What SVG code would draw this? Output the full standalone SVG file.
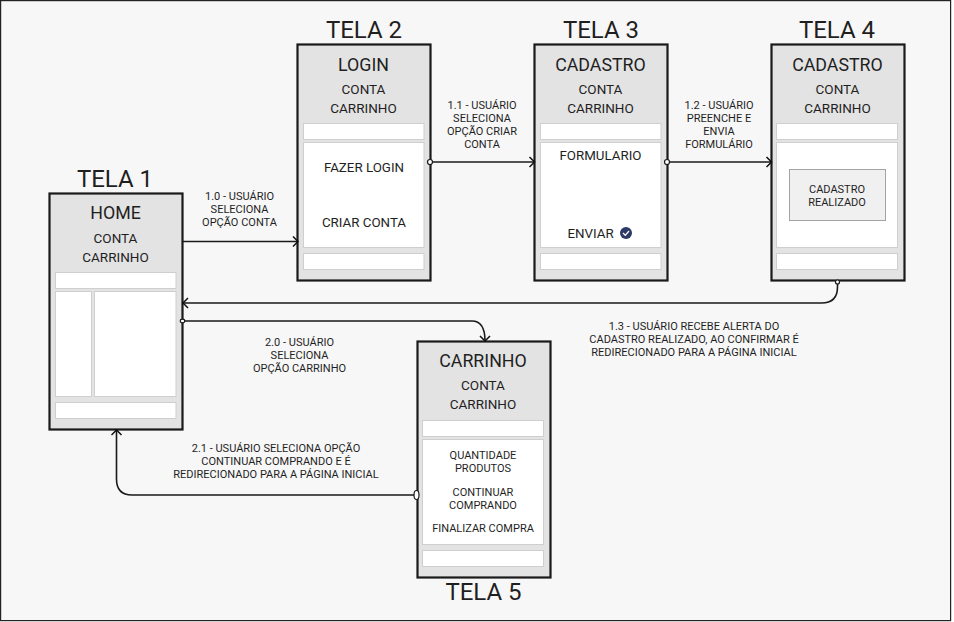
<svg xmlns="http://www.w3.org/2000/svg" width="954" height="622" viewBox="0 0 954 622">
<defs>
<marker id="arr" viewBox="0 0 10 12" refX="9" refY="6" markerWidth="10" markerHeight="12" orient="auto" markerUnits="userSpaceOnUse"><path d="M4 1 L9 6 L4 11" fill="none" stroke="#111" stroke-width="1.5"/></marker>
</defs>
<style>
text{font-family:Roboto,"Liberation Sans",sans-serif;text-anchor:middle;fill:#1f1f1f}
.bg{fill:#f7f7f7;stroke:#222;stroke-width:1.2}
.scr{fill:#e3e3e3;stroke:#1a1a1a;stroke-width:2.2}
.w{fill:#fff;stroke:#cfcfcf;stroke-width:1}
.tela{font-size:24px}
.title{font-size:17.8px}
.nav{font-size:13.5px}
.lbl{font-size:11px}
.item{font-size:13.33px}
.conn{fill:none;stroke:#1a1a1a;stroke-width:1.6}
.dot{fill:#fff;stroke:#1a1a1a;stroke-width:1.2}
</style>
<rect x="0" y="0" width="954" height="622" fill="#fff"/>
<rect class="bg" x="0.6" y="0.6" width="950" height="620"/>

<g id="tela1">
<text class="tela" x="115" y="187">TELA 1</text>
<rect class="scr" x="49.500" y="193.500" width="133" height="236"/>
<text class="title" x="115.500" y="218.500">HOME</text>
<text class="nav" x="115.500" y="243">CONTA</text>
<text class="nav" x="115.500" y="262">CARRINHO</text>
<rect class="w" x="55.500" y="272.500" width="120.500" height="16"/>
<rect class="w" x="55.500" y="291.500" width="36" height="105"/>
<rect class="w" x="94.500" y="291.500" width="81.500" height="105"/>
<rect class="w" x="55.500" y="402.500" width="120.500" height="16"/>
</g>

<g id="tela2">
<text class="tela" x="364" y="38">TELA 2</text>
<rect class="scr" x="297.500" y="44.500" width="133" height="236"/>
<text class="title" x="363.500" y="70.700">LOGIN</text>
<text class="nav" x="363.500" y="94">CONTA</text>
<text class="nav" x="363.500" y="113">CARRINHO</text>
<rect class="w" x="303.500" y="123.500" width="120.500" height="16"/>
<rect class="w" x="303.500" y="142.500" width="120.500" height="105"/>
<text class="item" x="364" y="172">FAZER LOGIN</text>
<text class="item" x="364" y="227">CRIAR CONTA</text>
<rect class="w" x="303.500" y="253.500" width="120.500" height="16"/>
</g>

<g id="tela3">
<text class="tela" x="601" y="38">TELA 3</text>
<rect class="scr" x="534.500" y="44.500" width="133" height="236"/>
<text class="title" x="600.500" y="70.700">CADASTRO</text>
<text class="nav" x="600.500" y="94">CONTA</text>
<text class="nav" x="600.500" y="113">CARRINHO</text>
<rect class="w" x="540.500" y="123.500" width="120.500" height="16"/>
<rect class="w" x="540.500" y="142.500" width="120.500" height="105"/>
<text class="item" x="600.500" y="160">FORMULARIO</text>
<text class="item" x="590.500" y="238">ENVIAR</text>
<circle cx="626" cy="233" r="6" fill="#2b3a67"/>
<path d="M623 233 L625.300 235.300 L629 231" fill="none" stroke="#fff" stroke-width="1.300"/>
<rect class="w" x="540.500" y="253.500" width="120.500" height="16"/>
</g>

<g id="tela4">
<text class="tela" x="837" y="38">TELA 4</text>
<rect class="scr" x="771.500" y="44.500" width="133" height="236"/>
<text class="title" x="837.500" y="70.700">CADASTRO</text>
<text class="nav" x="837.500" y="94">CONTA</text>
<text class="nav" x="837.500" y="113">CARRINHO</text>
<rect class="w" x="776.500" y="123.500" width="121" height="16"/>
<rect class="w" x="776.500" y="142.500" width="121" height="105"/>
<rect x="789.500" y="169.500" width="96" height="51" fill="#f0f0f0" stroke="#a3a3a3"/>
<text class="lbl" x="837" y="193">CADASTRO</text>
<text class="lbl" x="837" y="206">REALIZADO</text>
<rect class="w" x="776.500" y="253.500" width="121" height="16"/>
</g>

<g id="tela5">
<text class="tela" x="483.500" y="600">TELA 5</text>
<rect class="scr" x="417.500" y="341.500" width="133" height="236"/>
<text class="title" x="483" y="366.500">CARRINHO</text>
<text class="nav" x="483" y="390">CONTA</text>
<text class="nav" x="483" y="409">CARRINHO</text>
<rect class="w" x="422.500" y="420.500" width="121" height="16"/>
<rect class="w" x="422.500" y="439.500" width="121" height="105"/>
<text class="lbl" x="483" y="459">QUANTIDADE</text>
<text class="lbl" x="483" y="472">PRODUTOS</text>
<text class="lbl" x="483" y="496">CONTINUAR</text>
<text class="lbl" x="483" y="509">COMPRANDO</text>
<text class="lbl" x="483" y="532">FINALIZAR COMPRA</text>
<rect class="w" x="422.500" y="550.500" width="121" height="16"/>
</g>

<g id="connectors">
<path class="conn" marker-end="url(#arr)" d="M183 241.500 H298"/>
<path class="conn" marker-end="url(#arr)" d="M430 162 H534.500"/>
<path class="conn" marker-end="url(#arr)" d="M667 162 H771.500"/>
<path class="conn" marker-end="url(#arr)" d="M837.500 283 V287 Q837.500 303 821.500 303 H183"/>
<path class="conn" marker-end="url(#arr)" d="M182 321 H472 Q485 321 485 341"/>
<path class="conn" marker-end="url(#arr)" d="M416 495 H132 Q116.500 495 116.500 479 V430"/>
<circle class="dot" cx="430" cy="162" r="2.500"/>
<circle class="dot" cx="667" cy="162" r="2.500"/>
<circle class="dot" cx="837.500" cy="282" r="2"/>
<ellipse class="dot" cx="182.500" cy="321" rx="2.200" ry="1.800"/>
<ellipse class="dot" cx="416.500" cy="495" rx="2.500" ry="4.500"/>
</g>

<g id="labels">
<text class="lbl" x="239.500" y="200">1.0 - USUÁRIO</text>
<text class="lbl" x="239.500" y="213">SELECIONA</text>
<text class="lbl" x="239.500" y="226">OPÇÃO CONTA</text>
<text class="lbl" x="482" y="109">1.1 - USUÁRIO</text>
<text class="lbl" x="482" y="122">SELECIONA</text>
<text class="lbl" x="482" y="135">OPÇÃO CRIAR</text>
<text class="lbl" x="482" y="148">CONTA</text>
<text class="lbl" x="719" y="109">1.2 - USUÁRIO</text>
<text class="lbl" x="719" y="122">PREENCHE E</text>
<text class="lbl" x="719" y="135">ENVIA</text>
<text class="lbl" x="719" y="148">FORMULÁRIO</text>
<text class="lbl" x="694" y="330">1.3 - USUÁRIO RECEBE ALERTA DO</text>
<text class="lbl" x="694" y="343">CADASTRO REALIZADO, AO CONFIRMAR É</text>
<text class="lbl" x="694" y="356">REDIRECIONADO PARA A PÁGINA INICIAL</text>
<text class="lbl" x="299.500" y="346">2.0 - USUÁRIO</text>
<text class="lbl" x="299.500" y="359">SELECIONA</text>
<text class="lbl" x="299.500" y="372">OPÇÃO CARRINHO</text>
<text class="lbl" x="276" y="452">2.1 - USUÁRIO SELECIONA OPÇÃO</text>
<text class="lbl" x="276" y="465">CONTINUAR COMPRANDO E É</text>
<text class="lbl" x="276" y="478">REDIRECIONADO PARA A PÁGINA INICIAL</text>
</g>
</svg>
